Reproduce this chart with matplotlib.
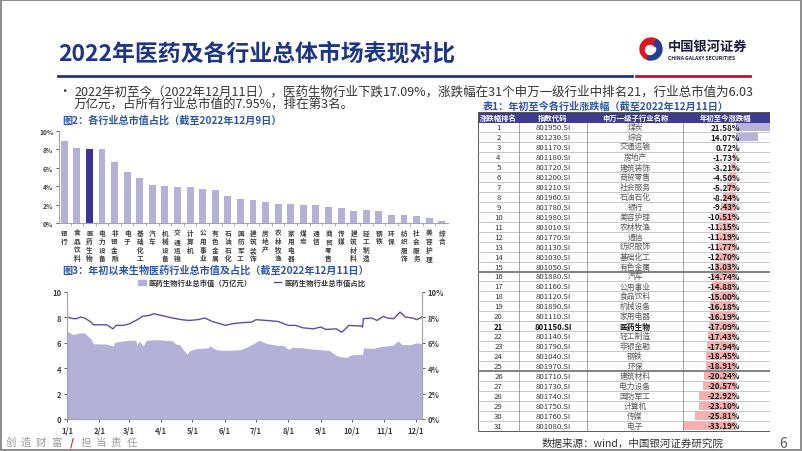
import matplotlib
matplotlib.use("Agg")
import matplotlib.pyplot as plt
import numpy as np
import pandas as pd
from matplotlib.patches import Rectangle, Wedge, Patch
from matplotlib.lines import Line2D

plt.rcParams['font.family'] = ['Noto Sans CJK SC', 'DejaVu Sans']
plt.rcParams['axes.unicode_minus'] = False

# ---- data: fig 2, share of total market value by industry (%) ----
ind_names = ['银行', '食品饮料', '医药生物', '电力设备', '非银金融', '电子', '基础化工', '汽车',
             '机械设备', '交通运输', '计算机', '公用事业', '有色金属', '石油石化', '国防军工',
             '建筑装饰', '房地产', '农林牧渔', '家用电器', '煤炭', '通信', '商贸零售', '传媒',
             '建筑材料', '轻工制造', '钢铁', '环保', '纺织服饰', '社会服务', '美容护理', '综合']
ind_share = [8.9, 8.18, 8.05, 8.0, 6.58, 5.56, 4.9, 4.18, 4.0, 3.96, 3.89, 3.67, 3.56, 2.91,
             2.56, 2.45, 2.27, 2.07, 2.06, 1.99, 1.92, 1.72, 1.68, 1.35, 1.38, 1.27, 0.91,
             0.91, 0.76, 0.58, 0.26]

# ---- data: fig 3, pharma total market value (trillion yuan) and share (%) ----
cap_dates = ['2022-01-01', '2022-01-07', '2022-01-12', '2022-01-17', '2022-01-20', '2022-01-24',
             '2022-01-26', '2022-01-28', '2022-02-08', '2022-02-14', '2022-02-16', '2022-02-24',
             '2022-03-02', '2022-03-08', '2022-03-09', '2022-03-11', '2022-03-15', '2022-03-18',
             '2022-03-28', '2022-04-06', '2022-04-12', '2022-04-15', '2022-04-19', '2022-04-22',
             '2022-04-26', '2022-04-28', '2022-05-05', '2022-05-16', '2022-05-18', '2022-05-24',
             '2022-06-02', '2022-06-16', '2022-06-22', '2022-06-28', '2022-07-04', '2022-07-11',
             '2022-07-21', '2022-07-27', '2022-08-01', '2022-08-05', '2022-08-15', '2022-08-25',
             '2022-09-02', '2022-09-09', '2022-09-16', '2022-09-21', '2022-09-26', '2022-09-30',
             '2022-10-10', '2022-10-11', '2022-10-12', '2022-10-21', '2022-10-28', '2022-11-03',
             '2022-11-09', '2022-11-14', '2022-11-18', '2022-11-25', '2022-12-02', '2022-12-07']
cap_vals = [6.90, 6.65, 6.75, 6.80, 6.60, 6.30, 5.95, 5.92, 5.90, 5.75, 6.05, 6.15,
            6.20, 6.20, 5.80, 6.15, 5.75, 6.20, 6.25, 6.20, 6.15, 5.90, 5.85, 5.50,
            5.10, 5.35, 5.55, 5.60, 5.75, 5.45, 5.40, 5.45, 5.65, 5.90, 6.20, 5.95,
            5.80, 5.80, 5.50, 5.65, 5.60, 5.50, 5.45, 5.40, 5.00, 4.90, 4.85, 5.05,
            5.10, 5.05, 5.60, 5.55, 5.70, 5.75, 5.80, 6.15, 5.85, 5.85, 6.00, 5.92]

share_dates = ['2022-01-01', '2022-01-07', '2022-01-10', '2022-01-14', '2022-01-18', '2022-01-24',
               '2022-01-26', '2022-02-08', '2022-02-14', '2022-02-17', '2022-02-24', '2022-03-02',
               '2022-03-08', '2022-03-11', '2022-03-14', '2022-03-21', '2022-03-25', '2022-04-01',
               '2022-04-12', '2022-04-21', '2022-04-28', '2022-05-06', '2022-05-13', '2022-05-20',
               '2022-06-02', '2022-06-08', '2022-06-17', '2022-06-27', '2022-07-01', '2022-07-11',
               '2022-07-22', '2022-08-01', '2022-08-08', '2022-08-15', '2022-08-25', '2022-09-01',
               '2022-09-06', '2022-09-16', '2022-09-21', '2022-09-23', '2022-09-28', '2022-10-10',
               '2022-10-11', '2022-10-12', '2022-10-20', '2022-10-25', '2022-10-31', '2022-11-04',
               '2022-11-10', '2022-11-16', '2022-11-21', '2022-11-28', '2022-12-02', '2022-12-07']
share_vals = [8.03, 7.90, 7.90, 8.03, 7.95, 7.63, 7.42, 7.42, 7.10, 7.37, 7.37, 7.50,
              7.76, 7.90, 8.08, 8.16, 8.29, 8.16, 7.95, 7.82, 7.76, 7.82, 7.95, 7.68,
              7.37, 7.50, 7.58, 7.63, 7.82, 7.76, 7.68, 7.37, 7.37, 7.18, 7.10, 7.24,
              7.05, 7.10, 6.84, 6.97, 7.37, 7.32, 7.24, 7.90, 7.95, 7.76, 8.08, 7.95,
              7.90, 8.42, 8.03, 7.95, 7.82, 8.03]

# ---- data: table 1, YTD change by industry ----
tbl_codes = ['801950.SI', '801230.SI', '801170.SI', '801180.SI', '801720.SI', '801200.SI',
             '801210.SI', '801960.SI', '801780.SI', '801980.SI', '801010.SI', '801770.SI',
             '801130.SI', '801030.SI', '801050.SI', '801880.SI', '801160.SI', '801120.SI',
             '801890.SI', '801110.SI', '801150.SI', '801140.SI', '801790.SI', '801040.SI',
             '801970.SI', '801710.SI', '801730.SI', '801740.SI', '801750.SI', '801760.SI',
             '801080.SI']
tbl_names = ['煤炭', '综合', '交通运输', '房地产', '建筑装饰', '商贸零售', '社会服务', '石油石化',
             '银行', '美容护理', '农林牧渔', '通信', '纺织服饰', '基础化工', '有色金属', '汽车',
             '公用事业', '食品饮料', '机械设备', '家用电器', '医药生物', '轻工制造', '非银金融',
             '钢铁', '环保', '建筑材料', '电力设备', '国防军工', '计算机', '传媒', '电子']
tbl_chg = [21.58, 14.07, 0.72, -1.73, -3.21, -4.50, -5.27, -8.24, -9.43, -10.51, -11.15,
           -11.19, -11.77, -12.70, -13.03, -14.74, -14.88, -15.00, -16.18, -16.19, -17.09,
           -17.43, -17.94, -18.45, -18.91, -20.24, -20.57, -22.92, -23.10, -25.81, -33.19]
tbl_header = ['涨跌幅排名', '指数代码', '申万一级子行业名称', '年初至今涨跌幅']

NAVY = '#1d3584'
BLUE_T = '#2e55a5'
LAV = '#b3b1d8'
PURPLE = '#3d348f'
GRAY = '#404040'

W, H = 802, 452
fig = plt.figure(figsize=(W / 100, H / 100), dpi=100)


def px_axes(x0, y0, x1, y1, z=1):
    ax = fig.add_axes([x0 / W, 1 - y1 / H, (x1 - x0) / W, (y1 - y0) / H])
    ax.set_zorder(z)
    ax.patch.set_alpha(0)
    return ax


# ---- slide background / decorations ----
bg = fig.add_axes([0, 0, 1, 1])
bg.set_xlim(0, W)
bg.set_ylim(H, 0)
bg.axis('off')
bg.add_patch(Rectangle((0.8, 0.8), W - 1.6, H - 1.6, fill=False, ec='#8c8c8c', lw=1.4))

bg.text(58, 54, '2022年医药及各行业总体市场表现对比', fontsize=16.5, fontweight='bold',
        color=NAVY, va='center', ha='left')
bg.plot([58, 632], [76.5, 76.5], color=NAVY, lw=2)
bg.plot([636, 750], [76.5, 76.5], color='#c8102e', lw=2)

# logo
bg.add_patch(Wedge((651, 50), 11, 100, 330, color='#d7191f'))
bg.add_patch(Wedge((651, 50), 11, 300, 110, width=5, color='#1f3f99'))
bg.add_patch(Wedge((650, 51), 4.5, 0, 360, color='white'))
bg.text(668, 47, '中国银河证券', fontsize=9.5, fontweight='bold', color='#1a1a3a',
        va='center', ha='left')
bg.text(668, 59, 'CHINA GALAXY SECURITIES', fontsize=3.6, fontweight='bold',
        color='#1a1a3a', va='center', ha='left')

# bullet text
bg.text(58, 92, '•', fontsize=9, color='#333333', va='center')
bg.text(74, 92, '2022年初至今（2022年12月11日），医药生物行业下跌17.09%，涨跌幅在31个申万一级行业中排名21，行业总市值为6.03',
        fontsize=9, color='#333333', va='center')
bg.text(74, 104, '万亿元，占所有行业总市值的7.95%，排在第3名。', fontsize=9,
        color='#333333', va='center')

bg.text(62, 121, '图2：各行业总市值占比（截至2022年12月9日）', fontsize=7.3,
        fontweight='bold', color=BLUE_T, va='center')
bg.text(62, 271, '图3：年初以来生物医药行业总市值及占比（截至2022年12月11日）', fontsize=7.3,
        fontweight='bold', color=BLUE_T, va='center')
bg.text(483, 107, '表1：年初至今各行业涨跌幅（截至2022年12月11日）', fontsize=7.3,
        fontweight='bold', color=BLUE_T, va='center')

bg.text(542, 444, '数据来源：wind，中国银河证券研究院', fontsize=7.6, color='#333333',
        va='center')
bg.text(783, 444, '6', fontsize=10, color='#595959', va='center', ha='center')

for cx, ch in zip([11, 26, 41, 56, 72, 86, 101, 116, 132],
                  ['创', '造', '财', '富', '/', '担', '当', '责', '任']):
    bg.text(cx, 443, ch, fontsize=7.5, ha='center', va='center',
            color='#d7191f' if ch == '/' else '#9a9a9a',
            fontweight='bold' if ch == '/' else 'normal')

# ---- fig 2: bar chart ----
ax2 = px_axes(59, 132, 448, 224, z=2)
xs = np.arange(len(ind_names))
cols = [PURPLE if n == '医药生物' else LAV for n in ind_names]
ax2.bar(xs, ind_share, width=0.55, color=cols)
ax2.set_xlim(-0.42, len(ind_names) - 0.5)
ax2.set_ylim(0, 10)
ax2.set_yticks(range(0, 11, 2))
ax2.set_yticklabels([f'{v}%' for v in range(0, 11, 2)])
ax2.set_xticks(xs)
ax2.set_xticklabels(['\n'.join(n) for n in ind_names], va='top', linespacing=1.25)
ax2.set_xticks(xs[:-1] + 0.5, minor=True)
for s in ['top', 'right']:
    ax2.spines[s].set_visible(False)
for s in ['left', 'bottom']:
    ax2.spines[s].set_color('#a6a6a6')
    ax2.spines[s].set_linewidth(0.8)
ax2.tick_params(axis='y', labelsize=4.8, colors=GRAY, length=2, width=0.6, pad=2)
ax2.tick_params(axis='x', which='major', labelsize=4.8, colors=GRAY, length=0, pad=4)
ax2.tick_params(axis='x', which='minor', length=2, width=0.6, color='#a6a6a6')
for lab in ax2.get_xticklabels() + ax2.get_yticklabels():
    lab.set_fontweight('bold')

# ---- fig 3: area + line ----
ax3 = px_axes(67, 293, 422, 420, z=2)
cd = pd.to_datetime(cap_dates)
sd = pd.to_datetime(share_dates)
ax3.fill_between(cd, cap_vals, 0, color=LAV, lw=0)
ax3.set_ylim(0, 10)
ax3.set_xlim(pd.Timestamp('2022-01-01'), pd.Timestamp('2022-12-07'))
ax3r = ax3.twinx()
ax3r.plot(sd, share_vals, color='#5b4fa0', lw=1)
ax3r.set_ylim(0, 10)
ax3.set_yticks(range(0, 11, 2))
ax3r.set_yticks(range(0, 11, 2))
ax3r.set_yticklabels([f'{v}%' for v in range(0, 11, 2)])
mticks = pd.date_range('2022-01-01', '2022-12-01', freq='MS')
ax3.set_xticks(mticks)
ax3.set_xticklabels([f'{d.month}/1' for d in mticks])
for a in (ax3, ax3r):
    a.spines['top'].set_visible(False)
    for s in ['left', 'right', 'bottom']:
        a.spines[s].set_color('#a6a6a6')
        a.spines[s].set_linewidth(0.8)
    a.tick_params(labelsize=5.5, colors=GRAY, length=2, width=0.6, pad=2)
    for lab in a.get_xticklabels() + a.get_yticklabels():
        lab.set_fontweight('bold')
ax3.tick_params(axis='x', pad=3)

handles = [Patch(color=LAV), Line2D([], [], color='#5b4fa0', lw=1)]
fig.legend(handles, ['医药生物行业总市值（万亿元）', '医药生物行业总市值占比'],
           loc='center', bbox_to_anchor=(252 / W, 1 - 283 / H), ncol=2, frameon=False,
           prop={'size': 5.3, 'weight': 'bold'}, handlelength=1.0, handleheight=0.7,
           handletextpad=0.4, columnspacing=3.0, labelcolor='#333333')

# ---- table 1 ----
top, hdr_bot, bot = 113, 123.5, 431.5
pitch = (bot - hdr_bot) / len(tbl_codes)
col_x = [478, 519, 587, 683, 770]

bx = px_axes(683, hdr_bot, 770, bot, z=2)
rows = np.arange(len(tbl_chg))
bcols = ['#b5b3da' if v > 0 else '#f6aeae' for v in tbl_chg]
bx.barh(rows, tbl_chg, height=0.8, color=bcols)
bx.set_xlim(min(tbl_chg), max(tbl_chg))
bx.set_ylim(len(tbl_chg) - 0.5, -0.5)
bx.axis('off')

tb = px_axes(478, top, 770, bot + 1, z=3)
tb.set_xlim(478, 770)
tb.set_ylim(bot + 1, top)
tb.axis('off')
tb.add_patch(Rectangle((478, top), 292, hdr_bot - top, color='#3f3c8f', lw=0))
hx = [498.5, 553, 635, 726]
for x, t in zip(hx, tbl_header):
    tb.text(x, (top + hdr_bot) / 2, t, fontsize=5.3, color='white', fontweight='bold',
            ha='center', va='center')
for i in range(len(tbl_codes)):
    yc = hdr_bot + (i + 0.5) * pitch
    hl = tbl_names[i] == '医药生物'
    fw = 'bold' if hl else 'normal'
    c1 = '#111111' if hl else '#333333'
    tb.text(498.5, yc, str(i + 1), fontsize=5.6, ha='center', va='center', color=c1, fontweight=fw)
    tb.text(553, yc, tbl_codes[i], fontsize=5.6, ha='center', va='center', color=c1, fontweight=fw)
    tb.text(635, yc, tbl_names[i], fontsize=5.6, ha='center', va='center',
            color='#111111' if hl else '#555555', fontweight=fw)
    tb.text(740, yc, f'{tbl_chg[i]:.2f}%', fontsize=5.8, ha='right', va='center',
            color='#1a1a1a', fontweight='bold')
    if i > 0:
        yl = hdr_bot + i * pitch
        thick = i in (15, 25)
        tb.plot([478, 770], [yl, yl], color='#808080' if thick else '#b0b0b0',
                lw=1.4 if thick else 0.5)
for x in col_x[1:-1]:
    tb.plot([x, x], [hdr_bot, bot], color='#7f7f7f', lw=0.5)
tb.add_patch(Rectangle((478, top), 292, bot - top, fill=False, ec='#595959', lw=0.7))

fig.savefig('out.png', dpi=100)
